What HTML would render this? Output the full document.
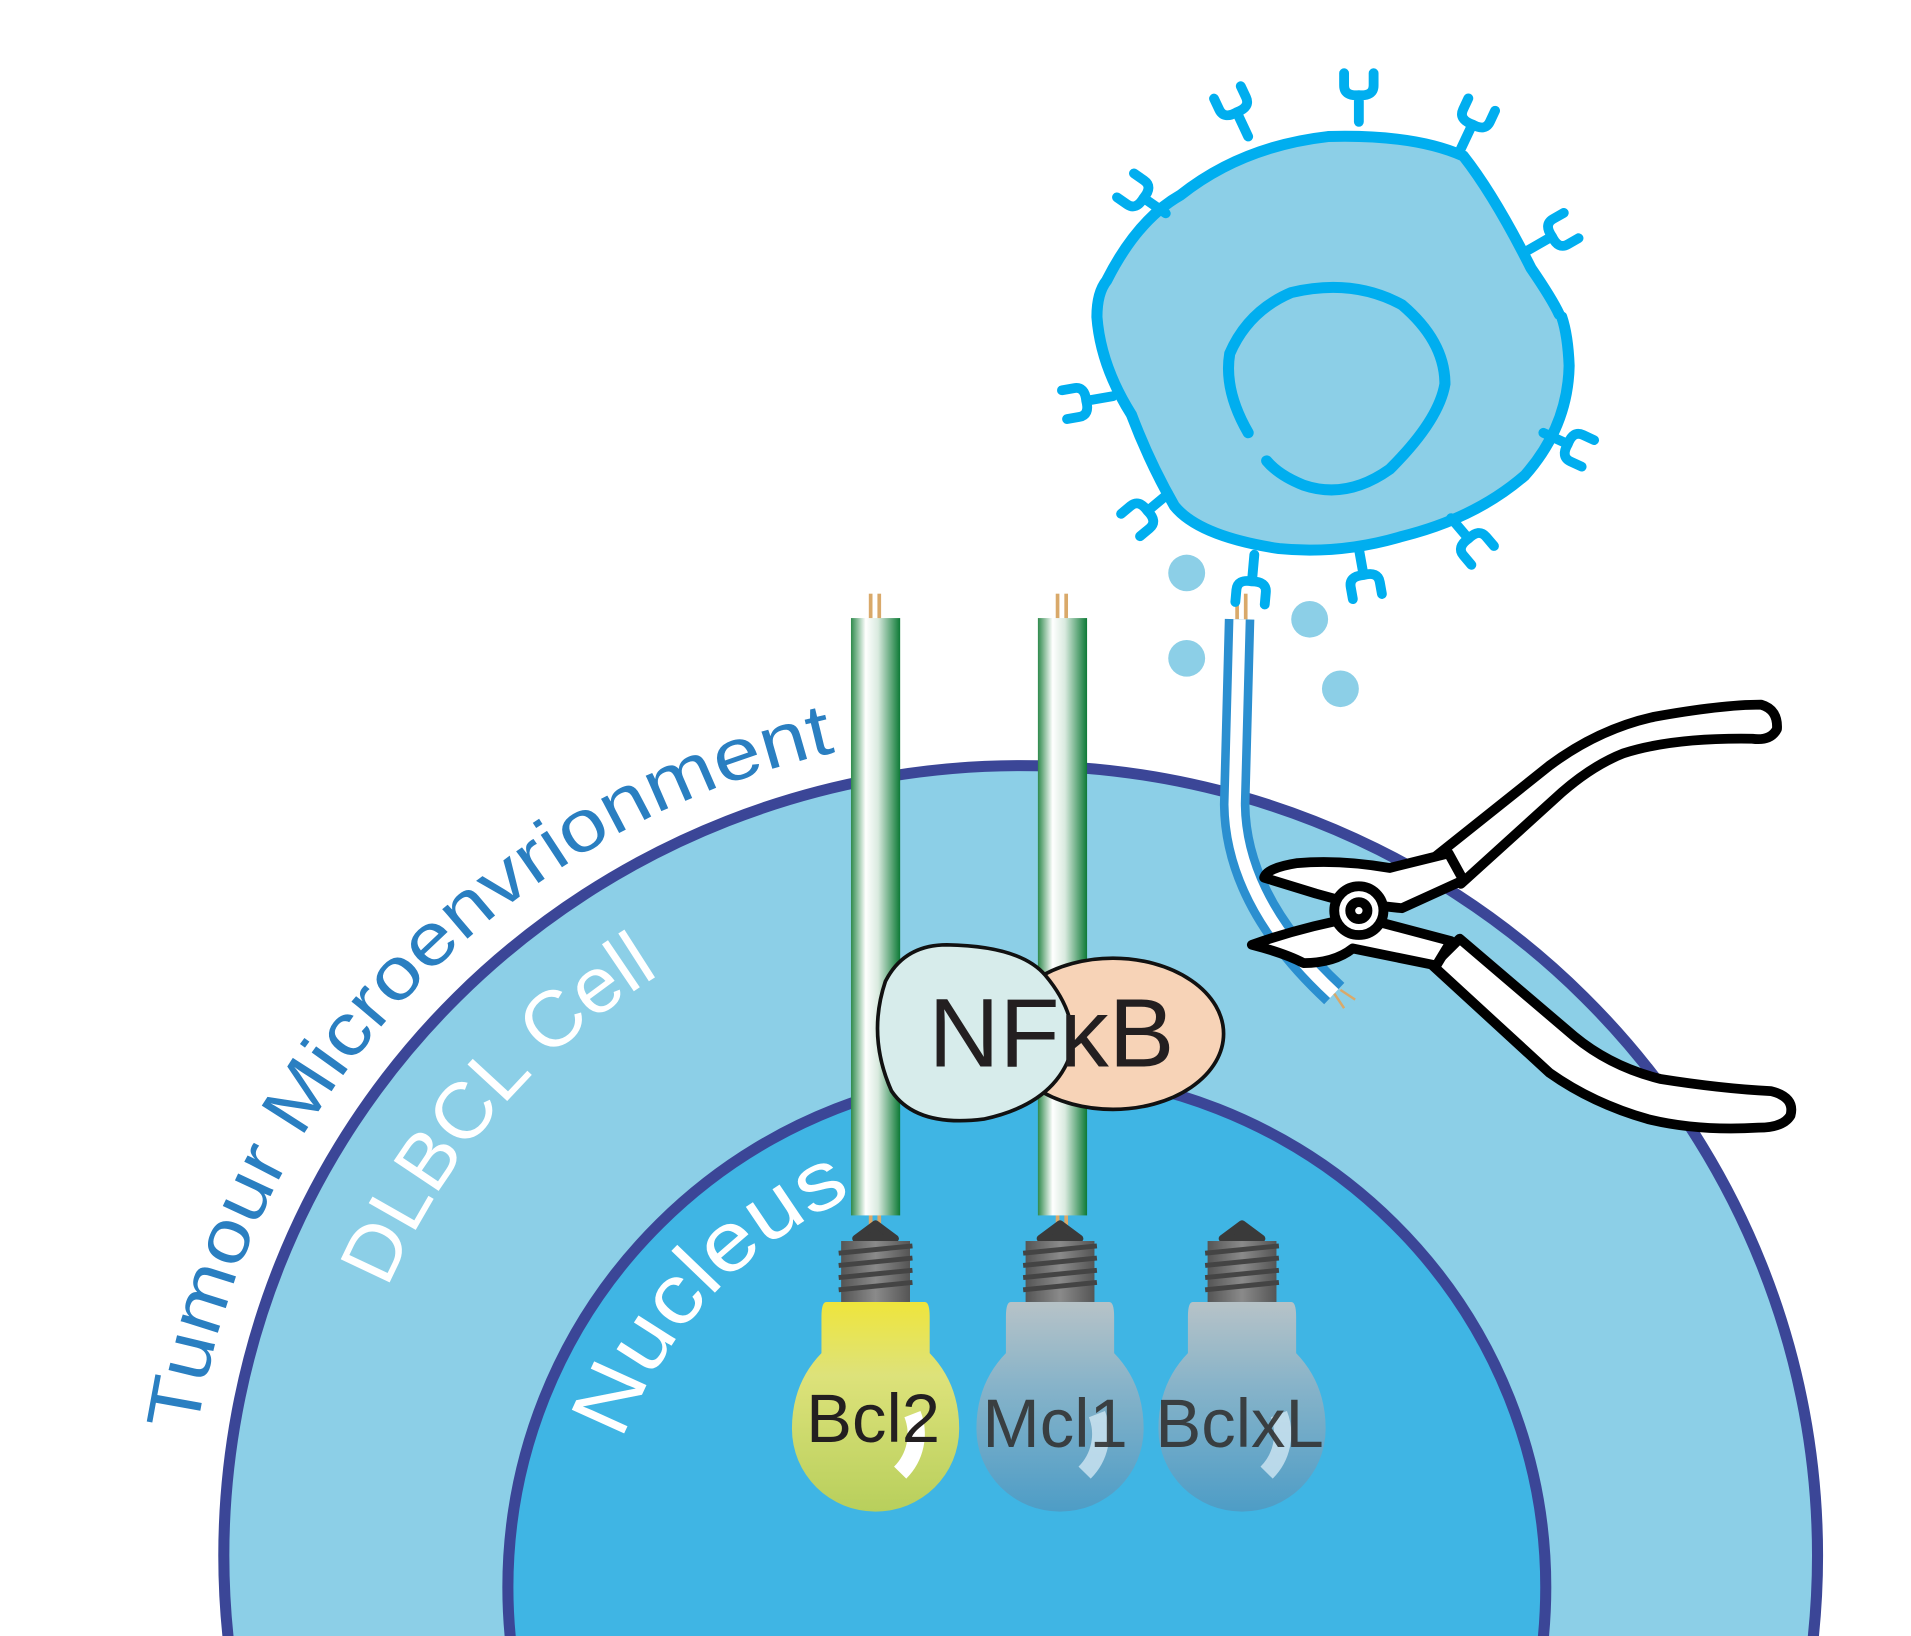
<!DOCTYPE html>
<html><head><meta charset="utf-8"><style>html,body{margin:0;padding:0;background:#fff;overflow:hidden}svg{display:block}</style></head>
<body>
<svg width="1911" height="1636" viewBox="0 0 1554 1342" preserveAspectRatio="none" xmlns="http://www.w3.org/2000/svg" font-family="Liberation Sans, sans-serif">
<defs>
<linearGradient id="tube" x1="0" x2="1" y1="0" y2="0">
<stop offset="0" stop-color="#2e8a4c"/><stop offset="0.3" stop-color="#ffffff"/><stop offset="0.55" stop-color="#d9eadf"/><stop offset="1" stop-color="#0d7a36"/></linearGradient>
<linearGradient id="screw" x1="0" x2="1"><stop offset="0" stop-color="#555"/><stop offset="0.5" stop-color="#8a8a8a"/><stop offset="1" stop-color="#555"/></linearGradient>
<linearGradient id="yel" x1="0" y1="0" x2="0" y2="1"><stop offset="0" stop-color="#efe53c"/><stop offset="0.35" stop-color="#dde27a"/><stop offset="1" stop-color="#b8cf5c"/></linearGradient>
<linearGradient id="gry" x1="0" y1="0" x2="0" y2="1"><stop offset="0" stop-color="#c4c4c4"/><stop offset="0.4" stop-color="#8fb3c6"/><stop offset="1" stop-color="#4f9ac3"/></linearGradient>
<path id="arcT" d="M 160 1175 A 675 675 0 0 1 735 607"/>
<path id="arcD" d="M 315 1057 A 560 560 0 0 1 542 796"/>
<path id="arcN" d="M 506 1182 A 350 350 0 0 1 704 977"/>
<g id="rec"><path d="M0 0 L0 -22 M-12 -40 L-12 -30 Q-12 -21 0 -22 Q12 -21 12 -30 L12 -40" fill="none" stroke="#00aeef" stroke-width="8" stroke-linecap="round"/></g>
<g id="bulbtop"><path d="M-16 16 L0 4 L16 16 Z" fill="#3a3a3a" stroke="#3a3a3a" stroke-width="6" stroke-linejoin="round"/>
<rect x="-28" y="18" width="56" height="50" fill="url(#screw)"/>
<path d="M-30 28 L30 22 M-30 38 L30 32 M-30 48 L30 42 M-30 58 L30 52" stroke="#444" stroke-width="4"/></g>
</defs>
<circle cx="830" cy="1276" r="648" fill="#8ccfe7" stroke="#3b4697" stroke-width="9"/>
<circle cx="835" cy="1302" r="422" fill="#3fb5e4" stroke="#3b4697" stroke-width="9"/>
<text font-size="60" fill="#2a7fc1"><textPath href="#arcT" textLength="810" lengthAdjust="spacingAndGlyphs">Tumour Microenvrionment</textPath></text>
<text font-size="64" fill="#fff"><textPath href="#arcD" textLength="345" lengthAdjust="spacingAndGlyphs">DLBCL Cell</textPath></text>
<text font-size="68" fill="#fff"><textPath href="#arcN" textLength="282" lengthAdjust="spacingAndGlyphs">Nucleus</textPath></text>
<g stroke="#d9a96a" stroke-width="3"><line x1="708" y1="487" x2="708" y2="508"/><line x1="715" y1="487" x2="715" y2="508"/><line x1="860" y1="487" x2="860" y2="508"/><line x1="867" y1="487" x2="867" y2="508"/><line x1="708" y1="996" x2="708" y2="1010"/><line x1="715" y1="996" x2="715" y2="1010"/><line x1="860" y1="996" x2="860" y2="1010"/><line x1="867" y1="996" x2="867" y2="1010"/><line x1="1006" y1="487" x2="1006" y2="508"/><line x1="1013" y1="487" x2="1013" y2="508"/></g>
<rect x="692" y="507" width="40" height="490" fill="url(#tube)"/>
<rect x="844" y="507" width="40" height="490" fill="url(#tube)"/>
<path d="M1008 508 L1004 660 Q1005 740 1085 815" fill="none" stroke="#2b8fd0" stroke-width="24"/>
<path d="M1008 508 L1004 660 Q1005 740 1085 815" fill="none" stroke="#ffffff" stroke-width="10"/>
<ellipse cx="905" cy="848" rx="90" ry="62" fill="#f7d3b7" stroke="#111" stroke-width="3"/>
<path d="M770 775 Q830 776 850 800 Q875 830 872 860 Q860 905 800 918 Q745 925 725 895 Q705 850 720 805 Q735 775 770 775 Z" fill="#d7eceb" stroke="#111" stroke-width="3"/>
<text x="855" y="875" font-size="80" text-anchor="middle" fill="#231f20">NFκB</text>
<g transform="translate(712,1000)"><use href="#bulbtop"/>
<path d="M-40 68 L40 68 Q44 68 44 80 L44 110 Q68 135 68 172 A68 68 0 0 1 -68 172 Q-68 135 -44 110 L-44 80 Q-44 68 -40 68 Z" fill="url(#yel)"/>
<path d="M30 160 A45 45 0 0 1 20 208" fill="none" stroke="#fff" stroke-width="14"/></g>
<g transform="translate(862,1000)"><use href="#bulbtop"/>
<path d="M-40 68 L40 68 Q44 68 44 80 L44 110 Q68 135 68 172 A68 68 0 0 1 -68 172 Q-68 135 -44 110 L-44 80 Q-44 68 -40 68 Z" fill="url(#gry)" opacity="0.9"/>
<path d="M30 160 A45 45 0 0 1 20 208" fill="none" stroke="#cfe6f2" stroke-width="14" opacity="0.8"/></g>
<g transform="translate(1010,1000)"><use href="#bulbtop"/>
<path d="M-40 68 L40 68 Q44 68 44 80 L44 110 Q68 135 68 172 A68 68 0 0 1 -68 172 Q-68 135 -44 110 L-44 80 Q-44 68 -40 68 Z" fill="url(#gry)" opacity="0.9"/>
<path d="M30 160 A45 45 0 0 1 20 208" fill="none" stroke="#cfe6f2" stroke-width="14" opacity="0.8"/></g>
<text x="710" y="1183" font-size="56" text-anchor="middle" fill="#231f20">Bcl2</text>
<text x="858" y="1187" font-size="56" text-anchor="middle" fill="#333" opacity="0.9">Mcl1</text>
<text x="1008" y="1187" font-size="56" text-anchor="middle" fill="#333" opacity="0.9">BclxL</text>
<path d="M900 230 Q925 180 960 160 Q1010 120 1080 112 Q1150 110 1190 128 Q1215 160 1245 220 Q1275 260 1276 300 Q1275 350 1240 390 Q1200 425 1140 440 Q1090 455 1040 450 Q975 440 955 415 Q935 380 920 340 Q895 300 892 260 Q892 240 900 230 Z" fill="#8ccfe7"/>
<path d="M1270 260 Q1275 275 1276 300 Q1275 350 1240 390 Q1200 425 1140 440 Q1090 455 1040 450 Q975 440 955 415 Q935 380 920 340 Q895 300 892 260 Q892 240 900 230 Q925 180 960 160 Q1010 120 1080 112 Q1150 110 1190 128 Q1215 160 1245 220 Q1262 245 1268 258" fill="none" stroke="#00aeef" stroke-width="9" stroke-linecap="round"/>
<path d="M1015 355 Q995 320 1000 290 Q1015 255 1050 240 Q1100 228 1140 250 Q1175 280 1175 315 Q1170 345 1130 385 Q1095 410 1060 398 Q1040 390 1030 378" fill="none" stroke="#00aeef" stroke-width="9" stroke-linecap="round"/>
<use href="#rec" transform="translate(1105,100)"/>
<use href="#rec" transform="translate(1015,112) rotate(-25)"/>
<use href="#rec" transform="translate(1188,122) rotate(25)"/>
<use href="#rec" transform="translate(948,175) rotate(-55)"/>
<use href="#rec" transform="translate(1243,205) rotate(60)"/>
<use href="#rec" transform="translate(905,325) rotate(-100)"/>
<use href="#rec" transform="translate(1255,355) rotate(115)"/>
<use href="#rec" transform="translate(950,405) rotate(-130)"/>
<use href="#rec" transform="translate(1180,425) rotate(140)"/>
<use href="#rec" transform="translate(1105,450) rotate(170)"/>
<use href="#rec" transform="translate(1020,455) rotate(185)"/>
<g fill="#8ccfe7"><circle cx="965" cy="470" r="15"/><circle cx="965" cy="540" r="15"/><circle cx="1065" cy="508" r="15"/><circle cx="1090" cy="565" r="15"/></g>
<g fill="#fff" stroke="#000" stroke-width="8" stroke-linejoin="round">
<path d="M1168 702 L1260 628 Q1300 598 1345 588 Q1400 578 1432 578 Q1446 582 1445 598 Q1440 608 1425 606 Q1360 605 1320 618 Q1295 628 1270 650 L1188 725 Z"/>
<path d="M1165 792 L1187 770 L1280 850 Q1310 875 1350 885 Q1400 893 1440 895 Q1460 900 1456 915 Q1450 925 1430 925 Q1380 928 1340 918 Q1295 905 1260 880 Z"/>
<path d="M1190 722 L1178 700 L1130 712 Q1090 705 1055 708 Q1030 712 1028 720 L1070 733 L1095 740 L1140 745 Z"/>
<path d="M1168 792 L1180 772 L1135 760 L1105 752 Q1060 760 1018 775 Q1045 782 1060 790 Q1085 790 1100 778 Z"/>
<circle cx="1105" cy="747" r="20"/><circle cx="1105" cy="747" r="7"/>
</g>
<path d="M1085 815 l8 12 M1090 812 l12 8" stroke="#d9a96a" stroke-width="2"/>
</svg>
</body></html>
